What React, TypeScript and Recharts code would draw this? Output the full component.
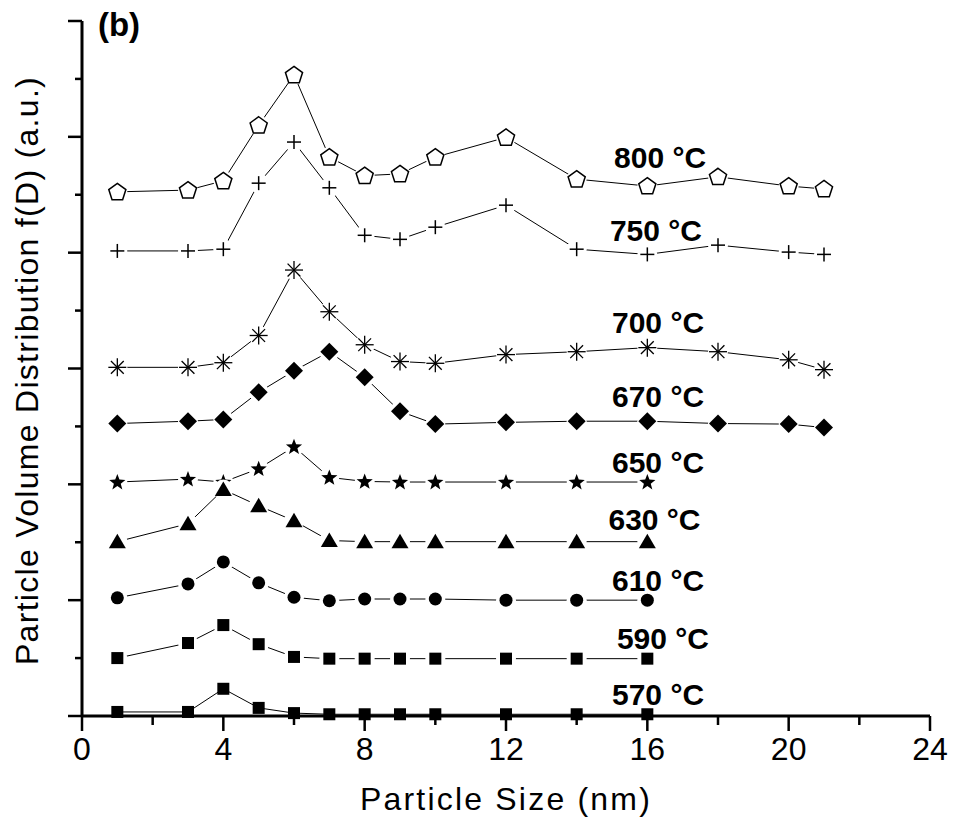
import React from 'react'
import { LineChart, Line, XAxis, YAxis, ReferenceDot } from 'recharts'

// particle sizes (nm) at which the distribution was sampled
const sizesShort = [1, 3, 4, 5, 6, 7, 8, 9, 10, 12, 14, 16]
const sizesLong = [1, 3, 4, 5, 6, 7, 8, 9, 10, 12, 14, 16, 18, 20, 21]

// f(D), already offset vertically per temperature (a.u.)
const s570 = [0.07, 0.07, 0.47, 0.14, 0.05, 0.03, 0.03, 0.03, 0.03, 0.03, 0.03, 0.03]
const s590 = [1.0, 1.26, 1.57, 1.24, 1.02, 0.99, 0.99, 0.99, 0.99, 0.99, 0.99, 0.99]
const s610 = [2.04, 2.28, 2.66, 2.3, 2.05, 1.99, 2.02, 2.02, 2.02, 2.0, 2.0, 2.0]
const s630 = [3.01, 3.32, 3.91, 3.63, 3.37, 3.03, 3.01, 3.01, 3.01, 3.01, 3.01, 3.01]
const s650 = [4.04, 4.09, 4.04, 4.27, 4.65, 4.12, 4.05, 4.04, 4.04, 4.04, 4.04, 4.04]
const s670 = [5.05, 5.09, 5.12, 5.59, 5.96, 6.29, 5.85, 5.26, 5.04, 5.07, 5.09, 5.09, 5.05, 5.04, 4.98]
const s700 = [6.02, 6.02, 6.1, 6.57, 7.7, 6.98, 6.41, 6.12, 6.09, 6.24, 6.29, 6.36, 6.29, 6.15, 5.98]
const s750 = [8.03, 8.03, 8.06, 9.2, 9.91, 9.12, 8.3, 8.23, 8.44, 8.82, 8.06, 7.97, 8.13, 8.01, 7.97]
const s800 = [9.05, 9.08, 9.24, 10.2, 11.07, 9.65, 9.33, 9.36, 9.65, 9.99, 9.27, 9.15, 9.31, 9.15, 9.1]

// temperature tags, anchored in data units (left edge, baseline)
const tempNames = ['800 °C', '750 °C', '700 °C', '670 °C', '650 °C', '630 °C', '610 °C', '590 °C', '570 °C']
const tempX = [15.06, 14.94, 15.0, 15.0, 15.0, 14.9, 15.0, 15.14, 15.0]
const tempY = [9.46, 8.2, 6.62, 5.34, 4.2, 3.22, 2.16, 1.16, 0.19]

const xTicks = [0, 2, 4, 6, 8, 10, 12, 14, 16, 18, 20, 22, 24]
const yTicks = [0, 1, 2, 3, 4, 5, 6, 7, 8, 9, 10, 11, 12]

const FONT = '"Liberation Sans", Arial, sans-serif'

const data = sizesLong.map((d, i) => ({
  d,
  t570: i < sizesShort.length ? s570[i] : null,
  t590: i < sizesShort.length ? s590[i] : null,
  t610: i < sizesShort.length ? s610[i] : null,
  t630: i < sizesShort.length ? s630[i] : null,
  t650: i < sizesShort.length ? s650[i] : null,
  t670: s670[i],
  t700: s700[i],
  t750: s750[i],
  t800: s800[i],
}))

function starPoints(cx: number, cy: number, ro: number, ri: number, n: number) {
  const pts: string[] = []
  for (let k = 0; k < n * 2; k++) {
    const r = k % 2 === 0 ? ro : ri
    const a = -Math.PI / 2 + (k * Math.PI) / n
    pts.push(`${cx + r * Math.cos(a)},${cy + r * Math.sin(a)}`)
  }
  return pts.join(' ')
}

function polyPoints(cx: number, cy: number, r: number, n: number) {
  const pts: string[] = []
  for (let k = 0; k < n; k++) {
    const a = -Math.PI / 2 + (k * 2 * Math.PI) / n
    pts.push(`${cx + r * Math.cos(a)},${cy + r * Math.sin(a)}`)
  }
  return pts.join(' ')
}

type Kind = 'square' | 'circle' | 'triangle' | 'star' | 'diamond' | 'asterisk' | 'plus' | 'pentagon'

function makeDot(kind: Kind, halo: boolean) {
  return (props: any) => {
    const { cx, cy, index } = props
    const key = `dot-${kind}-${index}`
    if (cx == null || cy == null || props.value == null) return <g key={key} />
    let mark: React.ReactNode = null
    if (kind === 'square') {
      mark = <rect x={cx - 6} y={cy - 6} width={12} height={12} fill="#000" />
    } else if (kind === 'circle') {
      mark = <circle cx={cx} cy={cy} r={6.5} fill="#000" />
    } else if (kind === 'triangle') {
      mark = <polygon points={`${cx},${cy - 8} ${cx + 8.5},${cy + 6.5} ${cx - 8.5},${cy + 6.5}`} fill="#000" />
    } else if (kind === 'star') {
      mark = <polygon points={starPoints(cx, cy + 0.5, 8.5, 3.6, 5)} fill="#000" />
    } else if (kind === 'diamond') {
      mark = <polygon points={`${cx},${cy - 9} ${cx + 9},${cy} ${cx},${cy + 9} ${cx - 9},${cy}`} fill="#000" />
    } else if (kind === 'asterisk') {
      const a = 9
      const b = 6.4
      mark = (
        <g stroke="#000" strokeWidth={1.3}>
          <line x1={cx - a} y1={cy} x2={cx + a} y2={cy} />
          <line x1={cx} y1={cy - a} x2={cx} y2={cy + a} />
          <line x1={cx - b} y1={cy - b} x2={cx + b} y2={cy + b} />
          <line x1={cx - b} y1={cy + b} x2={cx + b} y2={cy - b} />
        </g>
      )
    } else if (kind === 'plus') {
      mark = (
        <g stroke="#000" strokeWidth={1.5}>
          <line x1={cx - 7} y1={cy} x2={cx + 7} y2={cy} />
          <line x1={cx} y1={cy - 7} x2={cx} y2={cy + 7} />
        </g>
      )
    } else if (kind === 'pentagon') {
      mark = <polygon points={polyPoints(cx, cy + 0.5, 9, 5)} fill="#fff" stroke="#000" strokeWidth={1.5} />
    }
    return (
      <g key={key}>
        {halo && <circle cx={cx} cy={cy} r={10} fill="#fff" />}
        {mark}
      </g>
    )
  }
}

// drawn top curve first so the lower curves sit on top where they touch
const seriesKeys = ['t800', 't750', 't700', 't670', 't650', 't630', 't610', 't590', 't570']
const seriesKinds: Kind[] = ['pentagon', 'plus', 'asterisk', 'diamond', 'star', 'triangle', 'circle', 'square', 'square']

const YTick = (props: any) => {
  const { x, y, payload } = props
  const len = payload.value % 2 === 0 ? 14 : 7
  return <line x1={x} x2={x - len} y1={y} y2={y} stroke="#000" strokeWidth={2.5} />
}

const XTick = (props: any) => {
  const { x, y, payload } = props
  const major = payload.value % 4 === 0
  return (
    <g>
      <line x1={x} x2={x} y1={y} y2={y + (major ? 15 : 9)} stroke="#000" strokeWidth={2.5} />
      {major && (
        <text x={x} y={y + 44} textAnchor="middle" fontSize={32} fontFamily={FONT} fill="#000">
          {payload.value}
        </text>
      )}
    </g>
  )
}

const XTitle = (props: any) => {
  const vb = props.viewBox
  return (
    <text
      x={vb.x + vb.width / 2}
      y={vb.y + 94}
      textAnchor="middle"
      fontSize={32}
      letterSpacing={2.2}
      fontFamily={FONT}
      fill="#000"
    >
      Particle Size (nm)
    </text>
  )
}

const YTitle = (props: any) => {
  const vb = props.viewBox
  const cx = vb.x + 38
  const cy = vb.y + vb.height / 2 + 2
  return (
    <text
      x={cx}
      y={cy}
      transform={`rotate(-90, ${cx}, ${cy})`}
      textAnchor="middle"
      fontSize={32}
      letterSpacing={1.3}
      fontFamily={FONT}
      fill="#000"
    >
      Particle Volume Distribution f(D) (a.u.)
    </text>
  )
}

const tagContent = (text: string, size = 30) => (props: any) => {
  const vb = props.viewBox
  return (
    <text x={vb.x} y={vb.y} fontSize={size} fontWeight="bold" fontFamily={FONT} fill="#000">
      {text}
    </text>
  )
}

export default function App() {
  return (
    <div style={{ position: 'absolute', left: 0, top: 0, width: 954, height: 822, background: '#fff' }}>
      <LineChart width={954} height={822} data={data} margin={{ top: 21, right: 24, bottom: 0, left: 0 }}>
        <XAxis
          dataKey="d"
          type="number"
          domain={[0, 24]}
          ticks={xTicks}
          interval={0}
          height={106}
          tickSize={0}
          tickMargin={0}
          tick={XTick}
          tickLine={false}
          axisLine={{ stroke: '#000', strokeWidth: 3 }}
          label={{ content: XTitle }}
        />
        <YAxis
          type="number"
          domain={[0, 12]}
          ticks={yTicks}
          interval={0}
          width={82}
          tickSize={0}
          tickMargin={0}
          tick={YTick}
          tickLine={false}
          axisLine={{ stroke: '#000', strokeWidth: 3 }}
          label={{ content: YTitle }}
        />
        {seriesKeys.map((k, i) => (
          <Line
            key={k}
            dataKey={k}
            type="linear"
            stroke="#000"
            strokeWidth={1}
            dot={makeDot(seriesKinds[i], k !== 't570')}
            activeDot={false}
            connectNulls={false}
            isAnimationActive={false}
          />
        ))}
        {tempNames.map((name, i) => (
          <ReferenceDot
            key={name}
            x={tempX[i]}
            y={tempY[i]}
            r={0}
            fill="none"
            stroke="none"
            label={{ content: tagContent(name) }}
          />
        ))}
        <ReferenceDot x={0.45} y={11.74} r={0} fill="none" stroke="none" label={{ content: tagContent('(b)', 33) }} />
      </LineChart>
    </div>
  )
}
